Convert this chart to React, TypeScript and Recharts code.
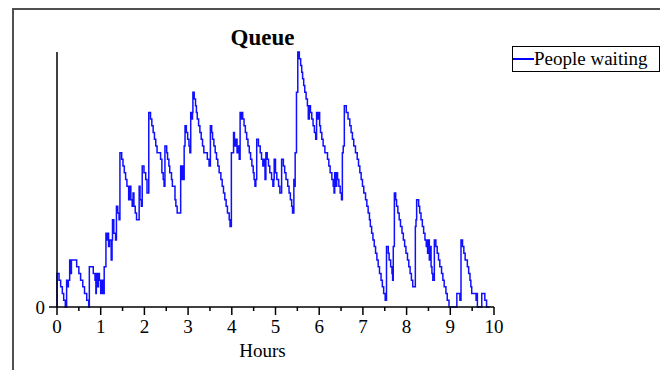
import React from 'react';
import { LineChart, Line, XAxis, YAxis, Legend } from 'recharts';

const chartTitle = 'Queue';
const seriesName = 'People waiting';
const xAxisTitle = 'Hours';

const hours = [
  0, 0, 0.046, 0.084, 0.122, 0.153, 0.19, 0.22, 0.24, 0.26, 0.29, 0.31, 0.33, 0.45, 0.5, 0.54, 0.59, 0.63, 0.68, 0.725,
  0.74, 0.83, 0.87, 0.89, 0.9, 0.93, 0.95, 0.97, 1.0, 1.02, 1.05, 1.08, 1.12, 1.14, 1.16, 1.18, 1.2, 1.24, 1.26, 1.27,
  1.3, 1.34, 1.36, 1.39, 1.42, 1.44, 1.48, 1.51, 1.54, 1.57, 1.6, 1.64, 1.67, 1.69, 1.72, 1.74, 1.76, 1.79, 1.82, 1.88,
  1.9, 1.93, 1.95, 1.99, 2.03, 2.06, 2.1, 2.14, 2.17, 2.2, 2.23, 2.26, 2.29, 2.37, 2.4, 2.43, 2.45, 2.47, 2.51, 2.53,
  2.56, 2.58, 2.62, 2.64, 2.7, 2.72, 2.75, 2.83, 2.85, 2.87, 2.89, 2.91, 2.93, 2.96, 2.99, 3.02, 3.04, 3.06, 3.08, 3.1,
  3.11, 3.14, 3.17, 3.19, 3.21, 3.24, 3.27, 3.3, 3.33, 3.36, 3.44, 3.48, 3.51, 3.54, 3.56, 3.59, 3.62, 3.65, 3.68, 3.71,
  3.75, 3.78, 3.81, 3.84, 3.87, 3.9, 3.94, 3.96, 3.99, 4.04, 4.06, 4.09, 4.12, 4.15, 4.17, 4.19, 4.21, 4.23, 4.25, 4.28,
  4.31, 4.34, 4.37, 4.4, 4.43, 4.46, 4.49, 4.51, 4.53, 4.55, 4.57, 4.61, 4.65, 4.68, 4.71, 4.73, 4.76, 4.78, 4.81, 4.84,
  4.87, 4.91, 4.94, 4.96, 4.97, 5.0, 5.03, 5.07, 5.1, 5.14, 5.18, 5.21, 5.24, 5.28, 5.31, 5.34, 5.37, 5.39, 5.42, 5.44,
  5.45, 5.48, 5.51, 5.545, 5.576, 5.6, 5.62, 5.645, 5.67, 5.7, 5.73, 5.75, 5.775, 5.8, 5.83, 5.86, 5.89, 5.92, 5.94, 5.965,
  5.99, 6.01, 6.03, 6.06, 6.09, 6.13, 6.19, 6.22, 6.25, 6.29, 6.32, 6.34, 6.355, 6.38, 6.4, 6.42, 6.45, 6.48, 6.51, 6.53,
  6.55, 6.575, 6.62, 6.66, 6.7, 6.73, 6.76, 6.79, 6.83, 6.87, 6.9, 6.93, 6.96, 6.99, 7.02, 7.06, 7.09, 7.12, 7.15, 7.17,
  7.2, 7.23, 7.26, 7.29, 7.32, 7.35, 7.38, 7.415, 7.445, 7.475, 7.51, 7.54, 7.58, 7.6, 7.635, 7.665, 7.68, 7.695, 7.72, 7.75,
  7.77, 7.8, 7.83, 7.86, 7.895, 7.925, 7.955, 7.985, 8.02, 8.05, 8.08, 8.11, 8.14, 8.2, 8.215, 8.23, 8.275, 8.3, 8.33, 8.36,
  8.39, 8.42, 8.45, 8.46, 8.48, 8.5, 8.52, 8.54, 8.56, 8.58, 8.6, 8.635, 8.67, 8.7, 8.73, 8.76, 8.8, 8.83, 8.86, 8.9,
  8.93, 8.97, 9.15, 9.22, 9.245, 9.28, 9.31, 9.34, 9.39, 9.42, 9.45, 9.47, 9.49, 9.59, 9.605, 9.62, 9.72, 9.79, 9.83, 9.9,
];

const peopleWaiting = [
  0, 5, 4, 3, 2, 1, 0, 4, 3, 4, 7, 5, 7, 6, 5, 4, 3, 2, 1, 0,
  6, 5, 4, 2, 5, 3, 5, 4, 2, 4, 2, 6, 11, 10, 11, 9, 10, 7, 10, 13,
  11, 10, 15, 14, 13, 23, 22, 21, 20, 19, 18, 16, 18, 16, 15, 17, 15, 14, 13, 18,
  16, 15, 21, 20, 19, 17, 29, 28, 27, 26, 25, 24, 23, 22, 20, 19, 18, 24, 23, 22,
  21, 20, 19, 18, 16, 15, 14, 21, 19, 21, 19, 24, 27, 26, 25, 24, 23, 29, 28, 29,
  32, 31, 30, 29, 28, 27, 26, 25, 24, 23, 22, 21, 27, 26, 25, 24, 23, 22, 21, 20,
  19, 18, 17, 16, 15, 14, 13, 12, 23, 26, 24, 25, 23, 24, 22, 29, 28, 29, 28, 27,
  26, 25, 24, 23, 22, 21, 20, 19, 18, 19, 25, 24, 23, 22, 21, 22, 19, 23, 22, 21,
  20, 19, 18, 19, 22, 20, 19, 18, 17, 22, 21, 20, 19, 18, 17, 16, 15, 14, 19, 18,
  23, 32, 38, 37, 36, 35, 34, 33, 32, 31, 30, 28, 30, 29, 28, 27, 26, 25, 29, 28,
  29, 27, 26, 25, 24, 23, 22, 21, 20, 19, 18, 17, 20, 18, 20, 19, 18, 17, 16, 23,
  24, 30, 29, 28, 27, 26, 25, 24, 23, 22, 21, 20, 19, 18, 17, 16, 15, 14, 13, 12,
  11, 10, 9, 8, 7, 6, 5, 4, 3, 2, 1, 9, 8, 7, 6, 5, 4, 9, 17, 16,
  15, 14, 13, 12, 11, 10, 9, 8, 7, 6, 5, 4, 3, 12, 13, 16, 15, 14, 13, 12,
  11, 10, 9, 10, 8, 10, 7, 9, 6, 5, 4, 10, 9, 8, 7, 6, 5, 4, 3, 2,
  1, 0, 2, 1, 10, 9, 8, 7, 6, 5, 4, 3, 2, 1, 2, 0, 2, 1, 0, 0,
];

const xTicks = [0, 0.5, 1, 1.5, 2, 2.5, 3, 3.5, 4, 4.5, 5, 5.5, 6, 6.5, 7, 7.5, 8, 8.5, 9, 9.5, 10];
const yTicks = [0];

const data = hours.map((h, i) => ({ hours: h, people: peopleWaiting[i] }));

const FONT = '"Liberation Serif", "Times New Roman", serif';

const XTick = (props: any) => {
  const { x, y, payload } = props;
  const major = Number.isInteger(payload.value);
  return (
    <g>
      <line x1={x} y1={y} x2={x} y2={y + (major ? 8 : 4)} stroke="#000" strokeWidth={1.5} />
      {major && (
        <text x={x} y={y + 26} textAnchor="middle" fontSize={19} fontFamily={FONT} fill="#000">
          {payload.value}
        </text>
      )}
    </g>
  );
};

const LegendBox = () => (
  <div
    style={{
      border: '1.5px solid #000',
      height: 26,
      width: 148,
      boxSizing: 'border-box',
      display: 'flex',
      alignItems: 'center',
      fontFamily: FONT,
      fontSize: 19,
      color: '#000',
      background: '#fff',
      whiteSpace: 'nowrap',
    }}
  >
    <span style={{ display: 'inline-block', width: 21, height: 1.5, background: '#0000ff' }} />
    <span style={{ lineHeight: '24px' }}>{seriesName}</span>
  </div>
);

export default function App() {
  return (
    <div style={{ position: 'relative', width: 660, height: 362, overflow: 'hidden', background: '#fff' }}>
      <div
        style={{
          position: 'absolute',
          left: 4,
          top: 0,
          width: 700,
          height: 400,
          borderTop: '2px solid #505050',
          borderLeft: '2px solid #505050',
          boxSizing: 'border-box',
        }}
      />
      <div
        style={{
          position: 'absolute',
          left: 254.5,
          top: 17.5,
          transform: 'translateX(-50%)',
          fontFamily: FONT,
          fontWeight: 'bold',
          fontSize: 23,
          lineHeight: '23px',
          whiteSpace: 'nowrap',
          color: '#000',
        }}
      >
        {chartTitle}
      </div>
      <div style={{ position: 'absolute', left: 0, top: 0 }}>
        <LineChart width={660} height={362} data={data} margin={{ top: 44, right: 174, bottom: 23, left: 0 }}>
          <XAxis
            dataKey="hours"
            type="number"
            domain={[0, 10]}
            ticks={xTicks}
            interval={0}
            height={40}
            tickSize={0}
            tickMargin={0}
            tickLine={false}
            tick={<XTick />}
            axisLine={{ stroke: '#000', strokeWidth: 1.5 }}
            label={{
              content: (p: any) => {
                const vb = p.viewBox || {};
                return (
                  <text
                    x={vb.x + vb.width / 2 - 13}
                    y={vb.y + 50}
                    textAnchor="middle"
                    fontSize={19}
                    fontFamily={FONT}
                    fill="#000"
                  >
                    {xAxisTitle}
                  </text>
                );
              },
            }}
          />
          <YAxis
            type="number"
            domain={[0, 38]}
            ticks={yTicks}
            width={49}
            tickSize={8}
            tickMargin={4}
            tickLine={{ stroke: '#000', strokeWidth: 1.5 }}
            axisLine={{ stroke: '#000', strokeWidth: 1.5 }}
            tick={{ fontSize: 19, fontFamily: FONT, fill: '#000' }}
          />
          <Legend
            layout="horizontal"
            verticalAlign="middle"
            align="center"
            wrapperStyle={{ left: 504, top: 38, width: 148, height: 26 }}
            content={() => <LegendBox />}
          />
          <Line
            type="stepAfter"
            dataKey="people"
            name={seriesName}
            stroke="#1010ff"
            strokeWidth={1.5}
            dot={false}
            activeDot={false}
            isAnimationActive={false}
          />
        </LineChart>
      </div>
    </div>
  );
}
